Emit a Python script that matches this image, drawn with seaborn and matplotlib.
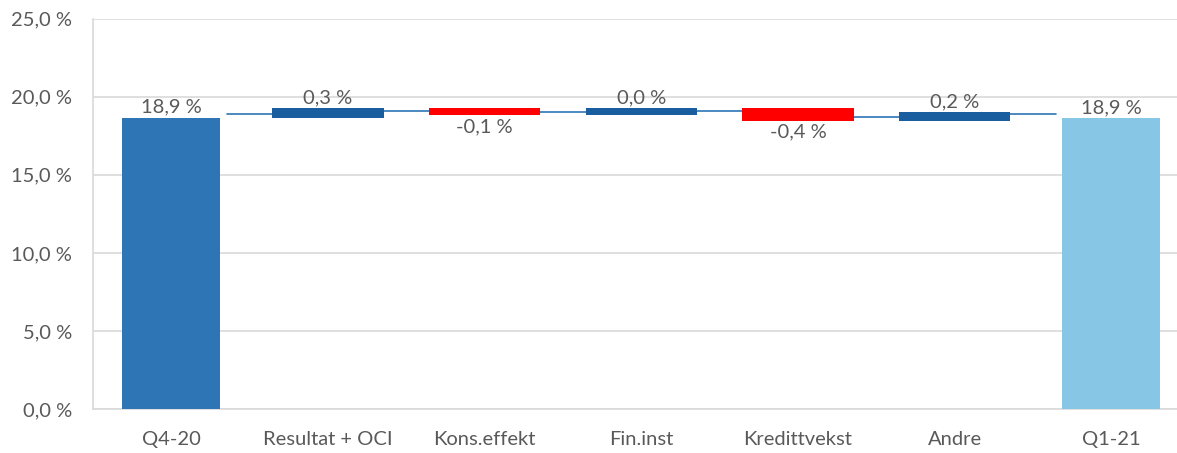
import pandas as pd
import matplotlib.pyplot as plt
import matplotlib.ticker as mticker
import seaborn as sns

# Waterfall data (in %)
categories = ["Q4-20", "Resultat + OCI", "Kons.effekt", "Fin.inst", "Kredittvekst", "Andre", "Q1-21"]
bar_low = [0.0, 18.65, 18.82, 18.80, 18.46, 18.46, 0.0]
bar_high = [18.65, 19.25, 19.27, 19.27, 19.27, 19.01, 18.63]
connector_level = [18.89, 19.10, 19.02, 19.08, 18.70, 18.89]
value_labels = ["18,9 %", "0,3 %", "-0,1 %", "0,0 %", "-0,4 %", "0,2 %", "18,9 %"]
is_negative = [False, False, True, False, True, False, False]
bar_colors = ["#2E75B6", "#195E9F", "#FF0000", "#195E9F", "#FF0000", "#195E9F", "#87C6E5"]

sns.set_style("white")
plt.rcParams['font.family'] = ['Lato', 'DejaVu Sans']

df = pd.DataFrame({"cat": categories, "low": bar_low, "high": bar_high})
df["size"] = df["high"] - df["low"]
ends = df.iloc[[0, -1]]
mids = df.iloc[1:-1]

fig = plt.figure(figsize=(11.77, 4.53), dpi=100)
ax = fig.add_axes([93 / 1177, 44 / 453, 1084 / 1177, 390.3 / 453])

sns.barplot(x="cat", y="high", data=ends, order=categories, width=0.625,
            color=bar_colors[0], linewidth=0, zorder=3, ax=ax)
sns.barplot(x="cat", y="size", data=mids, order=categories, width=0.71,
            bottom=mids["low"].values, color=bar_colors[1], linewidth=0, zorder=3, ax=ax)

# recolour bars: first two patches are the end bars, then the floating ones
patches = ax.patches
end_idx = [0, len(categories) - 1]
for p, i in zip(patches[:2], end_idx):
    p.set_facecolor(bar_colors[i])
for p, i in zip(patches[2:], range(1, len(categories) - 1)):
    p.set_facecolor(bar_colors[i])

# connector lines
for i, lvl in enumerate(connector_level):
    ax.plot([i + 0.355, i + 1 - 0.355], [lvl, lvl], color="#2E75B6", lw=1.2, zorder=2)

# value labels
for i, lab in enumerate(value_labels):
    if is_negative[i]:
        ax.annotate(lab, (i, bar_low[i]), xytext=(0, -2), textcoords="offset points",
                    ha="center", va="top", fontsize=14.5, color="#595959")
    else:
        ax.annotate(lab, (i, bar_high[i]), xytext=(0, 1.5), textcoords="offset points",
                    ha="center", va="bottom", fontsize=14.5, color="#595959")

ax.set_ylim(0, 25)
ax.set_xlim(-0.5, 6.42)
ax.yaxis.set_major_locator(mticker.MultipleLocator(5))
ax.yaxis.set_major_formatter(mticker.FuncFormatter(lambda v, _: f"{v:.1f} %".replace(".", ",")))
ax.grid(axis="y", color="#D9D9D9", lw=1.2, zorder=0)
ax.set_axisbelow(True)
ax.set_xlabel("")
ax.set_ylabel("")
ax.tick_params(axis="both", length=0, labelsize=14.5, labelcolor="#595959")
ax.tick_params(axis="y", pad=15)
ax.tick_params(axis="x", pad=16)
for s in ["top", "right"]:
    ax.spines[s].set_visible(False)
ax.spines["left"].set_color("#D9D9D9")
ax.spines["bottom"].set_color("#D9D9D9")
ax.spines["left"].set_linewidth(1.2)
ax.spines["bottom"].set_linewidth(1.2)

plt.savefig("out.png", dpi=100)
plt.close()
